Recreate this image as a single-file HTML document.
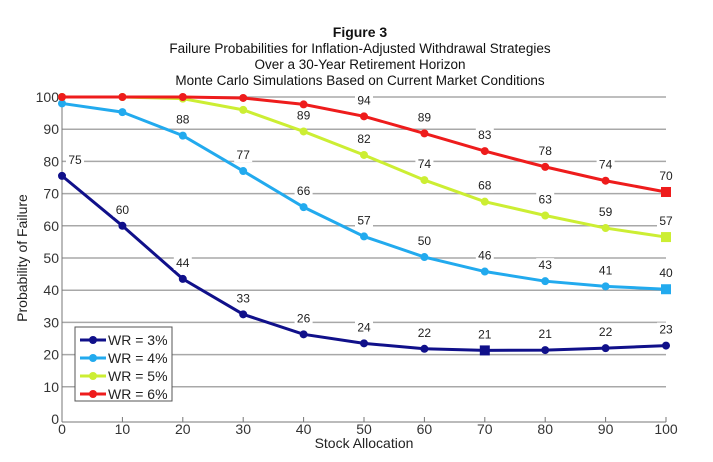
<!DOCTYPE html>
<html><head><meta charset="utf-8"><style>
body{margin:0;background:#fff;}
svg{display:block;font-family:"Liberation Sans",Arial,sans-serif;}
</style></head><body>
<svg id="chart" width="713" height="462" viewBox="0 0 713 462">
<g text-anchor="middle" fill="#111">
<text x="360" y="37" font-size="14" font-weight="bold">Figure 3</text>
<text x="360" y="53" font-size="13.5">Failure Probabilities for Inflation-Adjusted Withdrawal Strategies</text>
<text x="360" y="69" font-size="13.5">Over a 30-Year Retirement Horizon</text>
<text x="360" y="85" font-size="13.5">Monte Carlo Simulations Based on Current Market Conditions</text>
</g>
<g id="grid"></g>
<g id="axes"></g>
<g id="series"></g>
<g id="labels"></g>
<text x="364" y="448" font-size="14" text-anchor="middle" fill="#222">Stock Allocation</text>
<text transform="translate(27,258) rotate(-90)" font-size="14" text-anchor="middle" fill="#222">Probability of Failure</text>
<g id="legend"></g>
</svg>
<script>
const categories=[0,10,20,30,40,50,60,70,80,90,100];
const wr3=[75.5,60,43.5,32.5,26.3,23.5,21.8,21.3,21.4,22,22.8];
const wr4=[98,95.3,88,77,65.8,56.7,50.3,45.8,42.8,41.2,40.3];
const wr5=[100,100,99.5,96,89.3,82,74.2,67.5,63.2,59.3,56.5];
const wr6=[100,100,100,99.7,97.7,94,88.7,83.2,78.3,74,70.5];
const wr3Labels=["75","60","44","33","26","24","22","21","21","22","23"];
const wr4Labels=["","","88","77","66","57","50","46","43","41","40"];
const wr5Labels=["","","","","89","82","74","68","63","59","57"];
const wr6Labels=["","","","","","94","89","83","78","74","70"];
const yTicks=[0,10,20,30,40,50,60,70,80,90,100];
const seriesNames=["WR = 3%","WR = 4%","WR = 5%","WR = 6%"];

const NS="http://www.w3.org/2000/svg";
const X0=62,X1=666,Y0=419,Y1=97;
const xs=v=>X0+(v-0)/(100-0)*(X1-X0);
const ys=v=>Y0-(v-0)/(100-0)*(Y0-Y1);
function mk(tag,attrs,parent,text){const e=document.createElementNS(NS,tag);for(const k in attrs)e.setAttribute(k,attrs[k]);if(text!==undefined)e.textContent=text;parent.appendChild(e);return e;}
const grid=document.getElementById('grid'),axes=document.getElementById('axes'),ser=document.getElementById('series'),lab=document.getElementById('labels'),leg=document.getElementById('legend');
yTicks.forEach(t=>{
  if(t>0){const l=mk('line',{x1:X0,x2:X1,y1:ys(t),y2:ys(t),stroke:'#a8a8a8','stroke-width':1.5},grid);
  
  }
  const tx=mk('text',{x:X0-3,y:ys(t)+5,'font-size':14,'text-anchor':'end',fill:'#333'},axes,String(t));
  
  
});
const ax=mk('line',{x1:X0,x2:X0,y1:Y1,y2:Y0,stroke:'#777','stroke-width':1},axes);


const bx=mk('line',{x1:X0,x2:X1,y1:Y0+3,y2:Y0+3,stroke:'#777','stroke-width':1},axes);


categories.forEach(c=>{
  const tk=mk('line',{x1:xs(c),x2:xs(c),y1:Y0-2,y2:Y0+3,stroke:'#777'},axes);
  
  
  const tx=mk('text',{x:xs(c),y:Y0+15,'font-size':14,'text-anchor':'middle',fill:'#333'},axes,String(c));
  
  
});
const all=[[wr3,wr3Labels,'#10108a',7],[wr4,wr4Labels,'#22aaee',10],[wr5,wr5Labels,'#ccee33',10],[wr6,wr6Labels,'#ee1c1c',10]];
all.forEach(([vals,labs,col,sq],si)=>{
  const pl=mk('polyline',{points:vals.map((v,i)=>xs(categories[i])+','+ys(v)).join(' '),fill:'none',stroke:col,'stroke-width':3},ser);
  
  
  vals.forEach((v,i)=>{
    let m;
    if(i===sq) m=mk('rect',{x:xs(categories[i])-5,y:ys(v)-5,width:10,height:10,fill:col},ser);
    else m=mk('circle',{cx:xs(categories[i]),cy:ys(v),r:4,fill:col},ser);
    
    
    if(labs[i]){
      const lx=xs(categories[i])+(i===0?13:0), ly=ys(v)-12;
      const bg=mk('rect',{x:lx-9,y:ly-11,width:18,height:14,fill:'#fff'},lab);
      
      
      const t=mk('text',{x:lx,y:ly,'font-size':12,'text-anchor':'middle',fill:'#222'},lab,labs[i]);
      
      
    }
  });
});
const lb=mk('rect',{x:75,y:327,width:97,height:74,fill:'#fff',stroke:'#555','stroke-width':1},leg);


seriesNames.forEach((n,i)=>{
  const y=340+i*18, col=all[i][2];
  const l=mk('line',{x1:80,x2:106,y1:y,y2:y,stroke:col,'stroke-width':3},leg);
  
  
  const c=mk('circle',{cx:93,cy:y,r:4,fill:col},leg);
  
  
  const t=mk('text',{x:108,y:y+5,'font-size':14,fill:'#222'},leg,n);
  
  
});
</script>
</body></html>
